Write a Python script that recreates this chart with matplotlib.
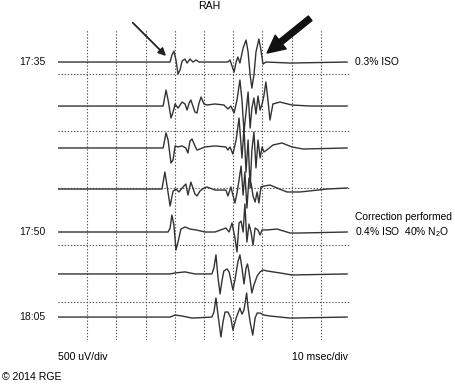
import numpy as np
import matplotlib
matplotlib.use("Agg")
import matplotlib.pyplot as plt

plt.rcParams['font.family'] = ['Liberation Sans', 'DejaVu Sans']
plt.rcParams['mathtext.default'] = 'regular'

# sweep times (msec) and amplitudes (uV, relative to each trace baseline)
t1 = [0, 38.4, 39.0, 39.7, 40.4, 41.1, 41.8, 42.5, 43.5, 44.2, 45.2, 46.2, 47.3, 48.3,
      58.2, 58.9, 59.6, 60.3, 61.0, 61.6, 62.3, 63.4, 64.4, 65.1, 65.8, 66.4, 67.1, 67.8,
      68.8, 69.5, 70.2, 71.2, 79.5, 99]
v1 = [0, 0, 61, 96, 18, -105, -70, 9, 26, -9, 26, 0, 18, 0,
      0, 18, -35, -88, 0, 44, -9, 123, 193, 88, -114, -228, -114, 88,
      202, 105, -18, 0, -9, 0]

t2 = [0, 36.0, 37.0, 37.7, 38.7, 39.4, 40.1, 41.1, 42.5, 43.5, 44.2, 44.9, 45.5, 46.2,
      46.9, 47.6, 48.3, 49.0, 50.0, 51.0, 53.8, 56.8, 58.2, 59.2, 60.3, 61.3, 62.3, 63.0,
      63.7, 64.4, 65.1, 65.8, 66.4, 67.1, 67.8, 68.5, 69.2, 69.9, 70.5, 71.2, 71.9, 72.6,
      73.6, 76.0, 80.1, 86.3, 99]
v2 = [0, 0, 140, 53, -105, -53, 18, -18, 35, 18, -35, 26, 53, 0,
      -53, -61, 26, 79, 18, 9, 18, 9, -26, 0, -61, 53, 228, 53,
      -228, -53, 123, -193, -18, 70, -70, 88, -35, 18, 88, 211, 53, -123,
      18, 35, 9, 0, 0]

t3 = [0, 36.0, 37.0, 37.7, 38.7, 39.4, 40.1, 41.1, 42.5, 43.8, 44.5, 45.2, 45.9, 46.9,
      47.6, 48.6, 50.3, 53.8, 57.5, 58.2, 58.9, 59.9, 61.0, 62.0, 63.0, 63.7, 64.4, 65.1,
      65.8, 66.4, 67.1, 67.8, 68.5, 69.2, 69.9, 70.5, 71.5, 73.6, 76.7, 80.1, 83.9, 99]
v3 = [0, 0, 132, 70, -132, -105, 18, 9, 18, 0, -44, 61, 79, 18,
      -18, -9, 9, 18, 9, -18, 9, -53, 70, 263, -88, 175, -211, 70,
      -351, -18, 140, -175, 70, -88, 9, -35, -18, 26, 44, 9, -9, 0]

t4 = [0, 35.6, 36.6, 37.3, 38.4, 39.4, 40.4, 41.4, 42.5, 43.8, 44.5, 45.5, 46.2, 46.9,
      47.6, 48.6, 50.0, 51.0, 53.8, 57.5, 58.2, 59.2, 60.6, 61.3, 62.0, 62.7, 63.4, 64.0,
      64.7, 65.4, 66.1, 66.8, 67.5, 68.2, 68.8, 69.5, 70.5, 72.6, 75.0, 78.4, 82.9, 92.1, 99]
v4 = [0, 0, 149, 35, -149, -18, 0, -26, 9, 44, -53, 61, 9, -44,
      -61, -18, 9, 18, -9, -9, -61, 18, -123, -35, 79, 202, -53, 149,
      -167, 96, 53, -61, -114, -26, -123, 18, 26, 35, 9, -26, -26, 0, 9]

t5 = [0, 37.7, 38.4, 39.0, 39.7, 40.4, 41.1, 42.1, 43.5, 45.2, 47.3, 50.3, 53.8, 57.5,
      58.6, 59.6, 60.6, 61.3, 62.0, 62.7, 63.4, 64.0, 64.7, 65.4, 66.1, 66.8, 67.5, 68.5,
      69.2, 69.9, 71.6, 75.0, 79.5, 82.9, 99]
v5 = [0, 0, 35, 149, 61, -158, -88, 26, 44, 26, 18, 0, 0, 35,
      0, 79, -53, -175, 79, 96, 0, 246, -88, 70, 0, -114, 35, 18,
      -26, 18, 18, 26, -9, -9, 0]

t6 = [0, 38.4, 40.1, 43.5, 46.9, 52.7, 53.4, 54.1, 54.8, 55.5, 56.2, 56.8, 57.9, 58.6,
      59.2, 59.9, 60.6, 61.6, 62.3, 63.0, 63.7, 64.4, 64.9, 65.4, 66.4, 67.1, 68.2, 69.2,
      70.2, 71.6, 76.0, 80.1, 99]
v6 = [0, 0, 9, 18, 0, 0, 53, 167, -35, -175, -53, 26, 44, 18,
      -53, -140, -53, 105, 167, 53, -88, 53, 88, 18, -167, -96, -18, 18,
      35, 26, 9, -9, 0]

t7 = [0, 38.4, 40.1, 42.5, 45.9, 52.7, 53.4, 54.1, 54.8, 55.8, 56.5, 57.2, 58.2, 59.2,
      59.9, 61.0, 62.3, 63.0, 63.7, 64.6, 65.1, 65.8, 66.7, 67.5, 68.2, 69.2, 70.5, 72.6,
      79.5, 99]
v7 = [0, 0, 18, 9, -9, 0, 44, 167, 18, -175, -44, 44, 44, -9,
      -114, -9, 79, 26, 61, 211, 79, -44, -158, -9, 35, 35, 18, 9,
      -9, 0]

times = [t1, t2, t3, t4, t5, t6, t7]
values = [v1, v2, v3, v4, v5, v6, v7]
baselines = [2605, 2219, 1851, 1491, 1114, 746, 368]   # uV offset of each sweep
time_labels = {0: "17:35", 4: "17:50", 6: "18:05"}

W, H = 456, 385
fig = plt.figure(figsize=(W / 100, H / 100), dpi=100)
# axes placed so 10 msec = 29.2 px, 500 uV = 57 px
ax = fig.add_axes([58 / W, (H - 340) / H, 292 / W, 310 / H])
ax.set_xlim(0, 100)
ax.set_ylim(500 - 38 * 500 / 57, 500 + 272 * 500 / 57)
ax.axis('off')

grid_kw = dict(color='#555555', lw=0.8, ls=(0, (1.2, 1.6)), zorder=1)
for xg in range(10, 100, 10):
    ax.axvline(xg, **grid_kw)
for yg in range(500, 3000, 500):
    ax.plot([0, 99.5], [yg, yg], **grid_kw)

for i, (t, v) in enumerate(zip(times, values)):
    ax.plot(t, np.array(v) + baselines[i], color='#333333', lw=1.0, zorder=2)
    if i in time_labels:
        ax.text(-4.3, baselines[i], time_labels[i], ha='right', va='center',
                fontsize=7.6, color='#111111', clip_on=False)

fs = 7.4
ax.text(101.7, baselines[0], "0.3% ISO", ha='left', va='center', fontsize=fs, clip_on=False)
ax.text(101.7, baselines[4] + 132, "Correction performed", ha='left', va='center',
        fontsize=fs, clip_on=False)
ax.text(101.7, baselines[4], "0.4% ISO  40% N$_2$O", ha='left', va='center',
        fontsize=fs, clip_on=False)
ax.text(51.9, 3097, "RAH", ha='center', va='center', fontsize=7.6, clip_on=False)
ax.text(0, 18, "500 uV/div", ha='left', va='center', fontsize=7.6, clip_on=False)
ax.text(99.3, 18, "10 msec/div", ha='right', va='center', fontsize=7.6, clip_on=False)
fig.text(2 / W, 1 - 377 / H, "\u00a9 2014 RGE", ha='left', va='center', fontsize=7.6)

# arrows pointing at the two responses of the first sweep
ax.annotate("", xy=(37.0, 2658), xytext=(-24, 24), textcoords='offset points',
            arrowprops=dict(arrowstyle='-|>', color='#222222', lw=1.3,
                            mutation_scale=11, shrinkA=0, shrinkB=0))
ax.annotate("", xy=(71.6, 2684), xytext=(31, 25), textcoords='offset points',
            arrowprops=dict(arrowstyle='simple,head_length=0.9,head_width=0.9,tail_width=0.3',
                            color='#111111', mutation_scale=14, shrinkA=0, shrinkB=0))

fig.savefig("out.png", dpi=100)
